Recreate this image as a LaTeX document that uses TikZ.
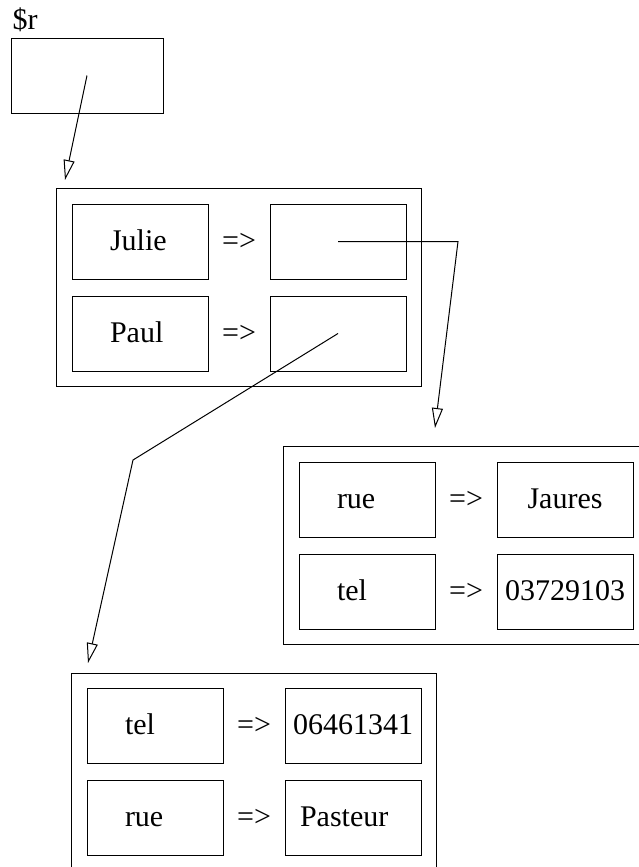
\documentclass[tikz,border=0pt]{standalone}
\usepackage{fontspec}
\setmainfont{Liberation Serif}
\usetikzlibrary{positioning, fit, arrows.meta}
\tikzstyle{cell}=[rectangle, draw, minimum width=68pt, minimum height=37.5pt, inner sep=0pt, text height=10.5pt, text depth=2pt]
\tikzstyle{clef}=[cell, text width=30pt, inner xsep=19pt, align=left]
\tikzstyle{valeur}=[cell]
\tikzstyle{fleche}=[inner sep=0pt, minimum width=30pt, text height=10.5pt, text depth=2pt]
\tikzstyle{hash}=[rectangle, draw, inner sep=7.5pt]
\tikzstyle{lien}=[-{Triangle[open, length=10pt, width=5.5pt]}, line width=0.5pt]

\begin{document}
\begin{tikzpicture}[x=0.5pt, y=-0.5pt, node distance=8pt and 0pt, line width=0.5pt,
                    every node/.style={font=\fontsize{15}{18}\selectfont}]
                \useasboundingbox (0,0) rectangle (638,867);

                % Variable
                \node[anchor=base west, inner sep=0pt] (nom) at (12,29) {\$r};
                \node[cell, minimum width=76pt] (r) at (87,75.5) {};

                % Tableau principal
                \node[clef] (julie) at (140,241.5) {Julie};
                \node[fleche, right=of julie] (flA) {=>};
                \node[valeur, right=of flA] (julieval) {};
                \node[clef, below=of julie] (paul) {Paul};
                \node[fleche, right=of paul] (flB) {=>};
                \node[valeur, right=of flB] (paulval) {};
                \node[hash, fit=(julie)(paulval)] (hashA) {};

                % Tableau de Julie
                \node[clef] (rue) at (367,499.5) {rue};
                \node[fleche, right=of rue] (flC) {=>};
                \node[valeur, right=of flC] (rueval) {Jaures};
                \node[clef, below=of rue] (tel) {tel};
                \node[fleche, right=of tel] (flD) {=>};
                \node[valeur, right=of flD] (telval) {03729103};
                \node[hash, fit=(rue)(telval)] (hashB) {};

                % Tableau de Paul
                \node[clef] (telP) at (155,726) {tel};
                \node[fleche, right=of telP] (flE) {=>};
                \node[valeur, right=of flE] (telPval) {06461341};
                \node[clef, below=of telP] (rueP) {rue};
                \node[fleche, right=of rueP] (flF) {=>};
                \node[valeur, right=of flF, text width=53pt, inner xsep=7.5pt, align=left] (ruePval) {Pasteur};
                \node[hash, fit=(telP)(ruePval)] (hashC) {};

                % References
                \coordinate (entreeA) at (65,180);
                \coordinate (coudeB) at (458,241.5);
                \coordinate (entreeB) at (435,428);
                \coordinate (coudeC) at (133,460);
                \coordinate (entreeC) at (88,663);
                \draw[lien] (r.center) -- (entreeA);
                \draw[lien] (julieval.center) -- (coudeB) -- (entreeB);
                \draw[lien] (paulval.center) -- (coudeC) -- (entreeC);
            \end{tikzpicture}
\end{document}
